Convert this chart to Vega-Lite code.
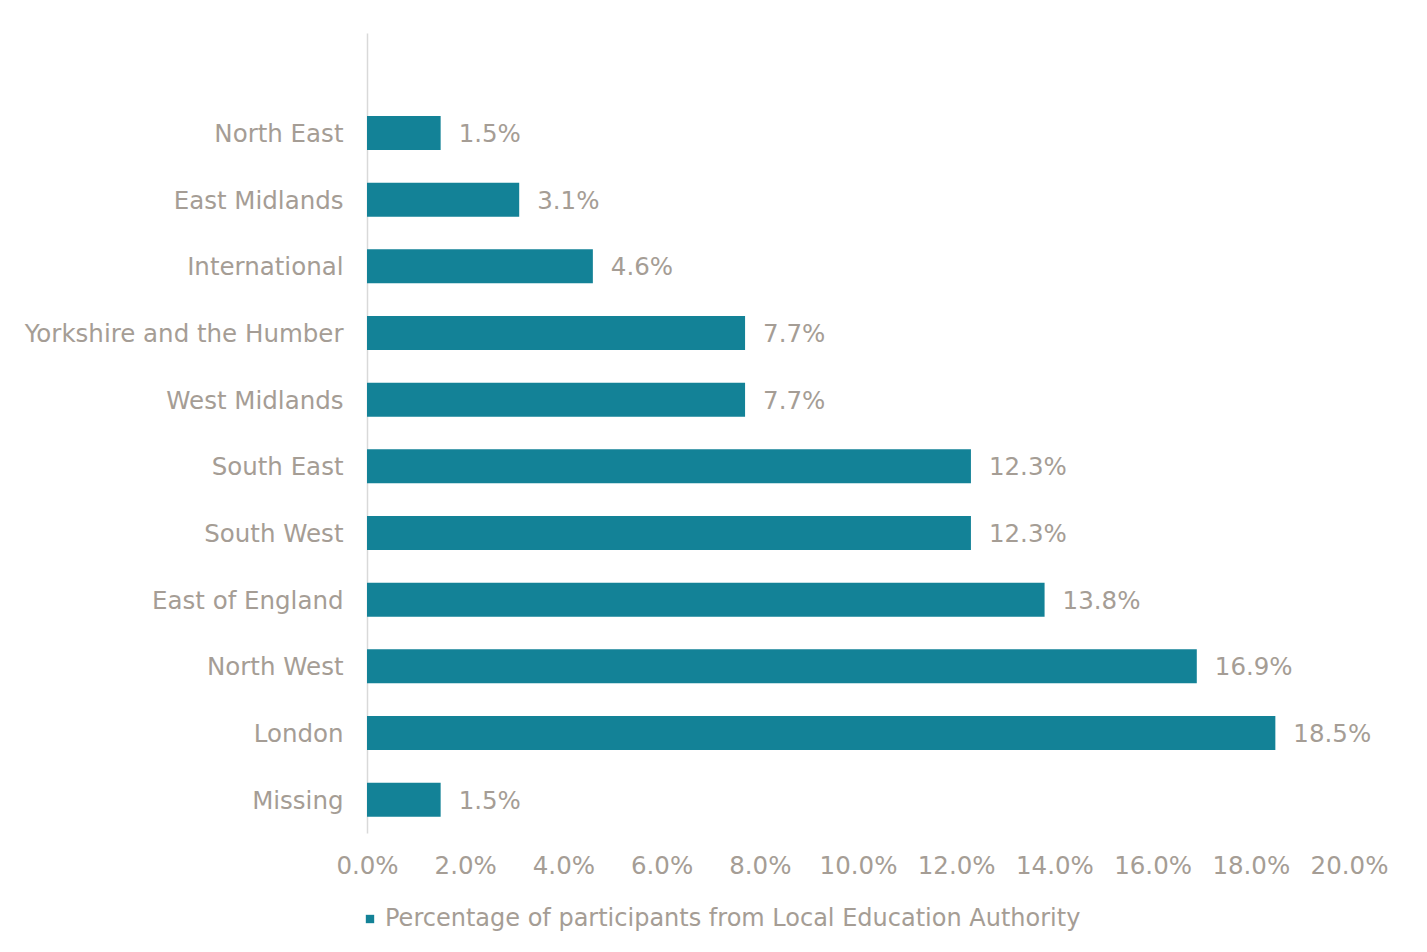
{
  "$schema": "https://vega.github.io/schema/vega-lite/v6.json",
  "width": 982,
  "height": 800,
  "autosize": {"type": "none"},
  "padding": {"left": 367, "top": 33, "right": 78, "bottom": 119},
  "background": "white",
  "config": {
    "font": "DejaVu Sans",
    "view": {"stroke": null}
  },
  "data": {
    "values": [
      {"region": "North East", "pct": 0.015, "series": "Percentage of participants from Local Education Authority"},
      {"region": "East Midlands", "pct": 0.031, "series": "Percentage of participants from Local Education Authority"},
      {"region": "International", "pct": 0.046, "series": "Percentage of participants from Local Education Authority"},
      {"region": "Yorkshire and the Humber", "pct": 0.077, "series": "Percentage of participants from Local Education Authority"},
      {"region": "West Midlands", "pct": 0.077, "series": "Percentage of participants from Local Education Authority"},
      {"region": "South East", "pct": 0.123, "series": "Percentage of participants from Local Education Authority"},
      {"region": "South West", "pct": 0.123, "series": "Percentage of participants from Local Education Authority"},
      {"region": "East of England", "pct": 0.138, "series": "Percentage of participants from Local Education Authority"},
      {"region": "North West", "pct": 0.169, "series": "Percentage of participants from Local Education Authority"},
      {"region": "London", "pct": 0.185, "series": "Percentage of participants from Local Education Authority"},
      {"region": "Missing", "pct": 0.015, "series": "Percentage of participants from Local Education Authority"}
    ]
  },
  "encoding": {
    "y": {
      "field": "region",
      "type": "nominal",
      "scale": {
        "domain": [" ", "North East", "East Midlands", "International", "Yorkshire and the Humber", "West Midlands", "South East", "South West", "East of England", "North West", "London", "Missing"],
        "paddingInner": 0.49,
        "paddingOuter": 0.245
      },
      "axis": {
        "title": null,
        "ticks": false,
        "domainColor": "#d9d9d9",
        "domainWidth": 1.5,
        "labelFontSize": 24.5,
        "labelColor": "#a59d95",
        "labelPadding": 24,
        "labelOffset": 2,
        "labelLimit": 400
      }
    },
    "x": {
      "field": "pct",
      "type": "quantitative",
      "scale": {"domain": [0, 0.2], "nice": false},
      "axis": {
        "title": null,
        "format": ".1%",
        "values": [0, 0.02, 0.04, 0.06, 0.08, 0.1, 0.12, 0.14, 0.16, 0.18, 0.2],
        "grid": false,
        "ticks": false,
        "domain": false,
        "labelFontSize": 24.5,
        "labelColor": "#a59d95",
        "labelPadding": 21,
        "labelFlush": false,
        "labelOverlap": false
      }
    }
  },
  "layer": [
    {
      "mark": {"type": "bar"},
      "encoding": {
        "color": {
          "field": "series",
          "type": "nominal",
          "scale": {"range": ["#138297"]},
          "legend": {
            "title": null,
            "orient": "none",
            "legendX": -9,
            "legendY": 874,
            "symbolType": "square",
            "symbolSize": 70,
            "symbolStrokeWidth": 0,
            "labelFontSize": 24,
            "labelColor": "#a59d95",
            "labelLimit": 1000,
            "labelOffset": 3
          }
        }
      }
    },
    {
      "mark": {"type": "text", "align": "left", "baseline": "middle", "dx": 18, "dy": 2, "fontSize": 24.5, "color": "#a59d95"},
      "encoding": {
        "text": {"field": "pct", "type": "quantitative", "format": ".1%"}
      }
    }
  ]
}
